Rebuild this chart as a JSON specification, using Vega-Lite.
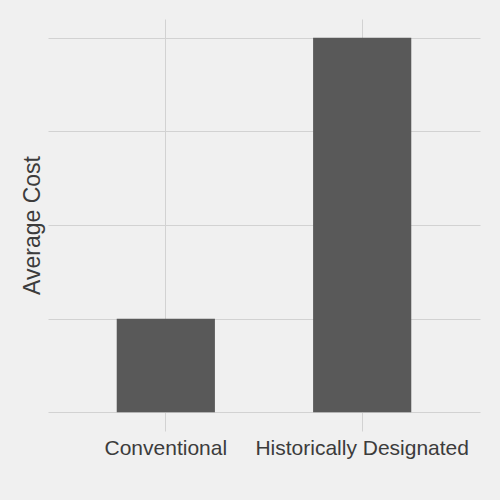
{
  "$schema": "https://vega.github.io/schema/vega-lite/v6.json",
  "width": 432,
  "height": 412,
  "autosize": {"type": "none"},
  "padding": {"left": 48, "top": 19, "right": 20, "bottom": 69},
  "background": "#F0F0F0",
  "config": {
    "view": {"stroke": null},
    "font": "Liberation Sans",
    "axis": {
      "gridColor": "#D2D2D2",
      "gridWidth": 1,
      "domain": false,
      "ticks": false,
      "labelColor": "#3C3C3C",
      "titleColor": "#3C3C3C",
      "labelFont": "Liberation Sans",
      "titleFont": "Liberation Sans",
      "titleFontWeight": "normal"
    }
  },
  "data": {
    "values": [
      {"type": "Conventional", "cost": 1},
      {"type": "Historically Designated", "cost": 4}
    ]
  },
  "mark": {"type": "bar", "color": "#595959"},
  "encoding": {
    "x": {
      "field": "type",
      "type": "nominal",
      "sort": null,
      "scale": {"paddingInner": 0.5, "paddingOuter": 0.35},
      "axis": {
        "title": null,
        "grid": true,
        "bandPosition": 0.5,
        "labelAngle": 0,
        "labelFontSize": 21,
        "labelPadding": 6,
        "labelLimit": 0,
        "labelOverlap": false
      }
    },
    "y": {
      "field": "cost",
      "type": "quantitative",
      "scale": {"domain": [-0.2, 4.2], "nice": false, "zero": false},
      "axis": {
        "title": "Average Cost",
        "values": [0, 1, 2, 3, 4],
        "labels": false,
        "titleFontSize": 23,
        "titlePadding": 4
      }
    }
  }
}
